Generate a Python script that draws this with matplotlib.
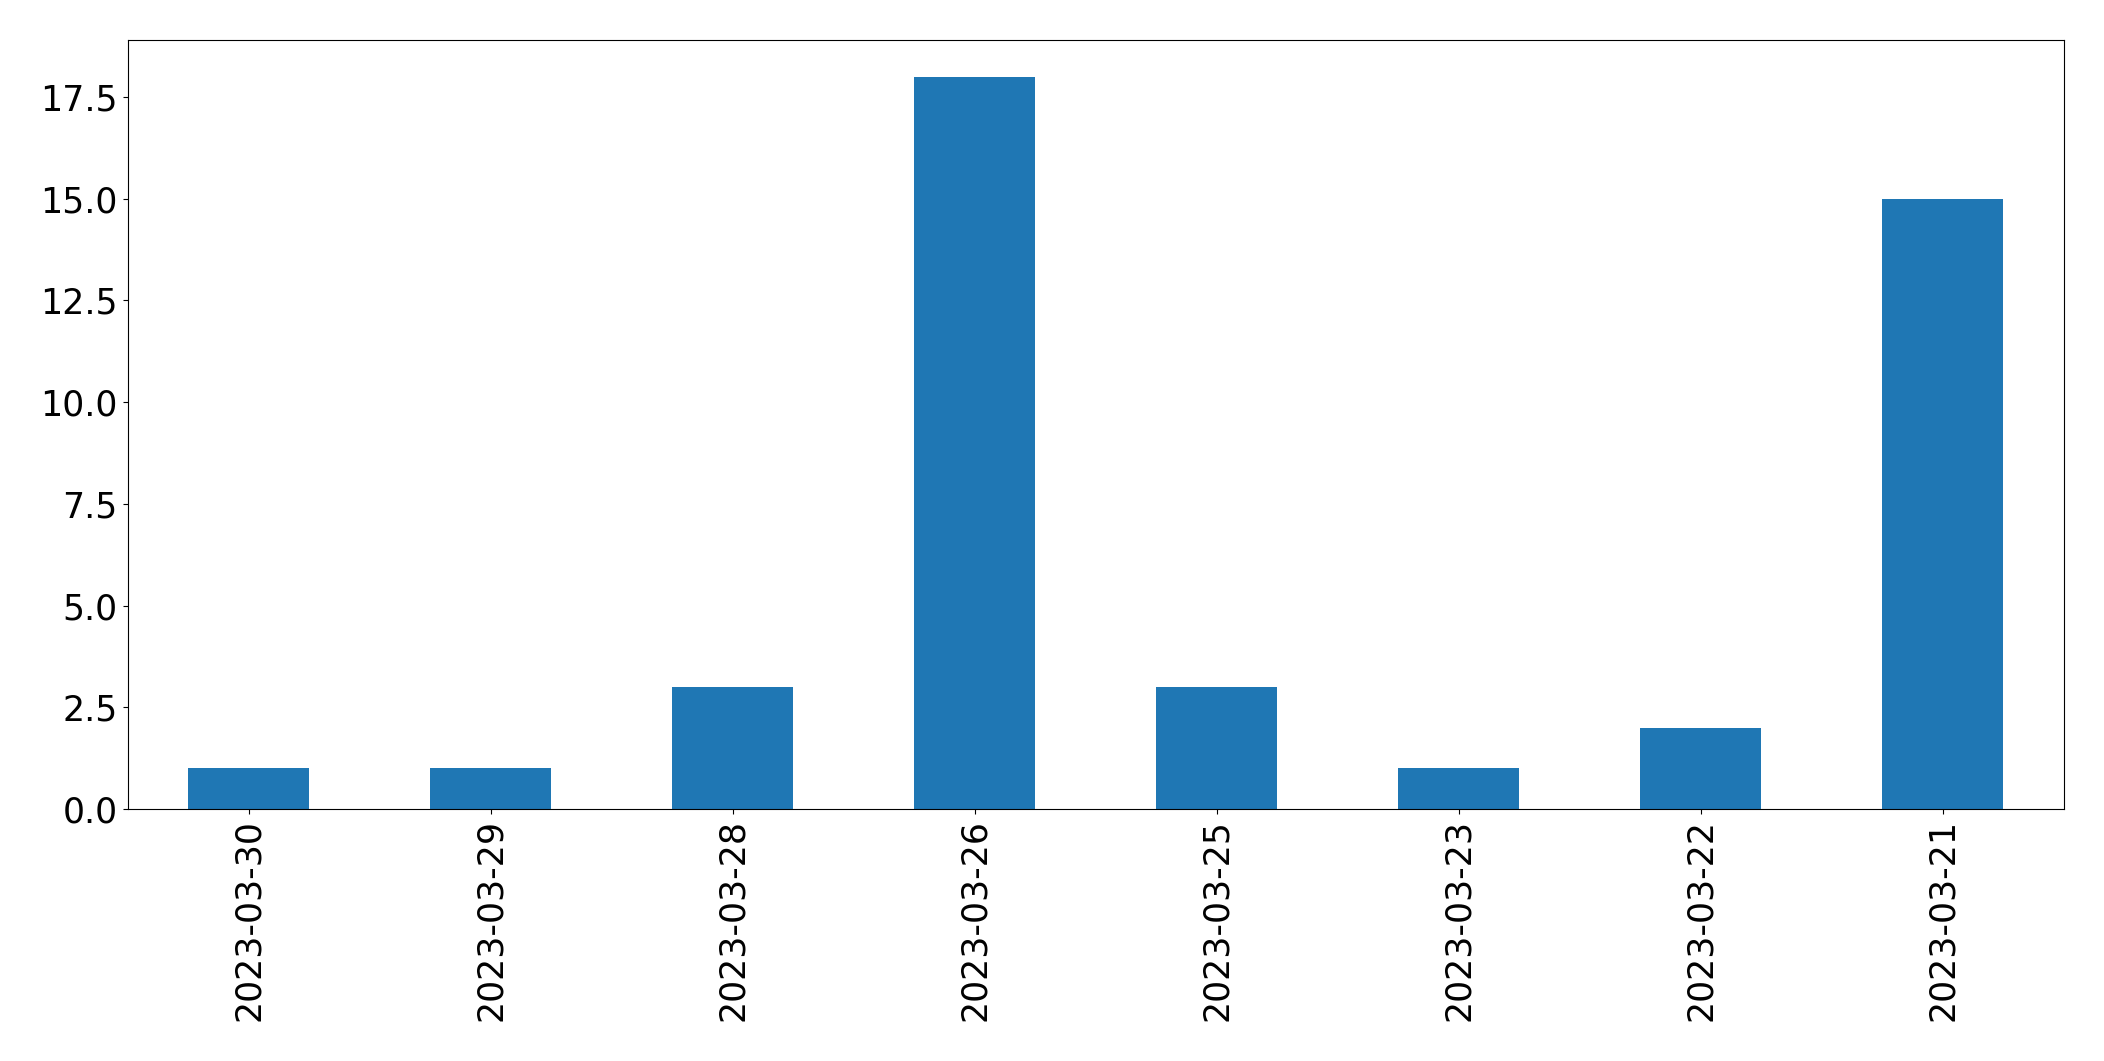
import matplotlib
matplotlib.use("Agg")
import matplotlib.pyplot as plt
import pandas as pd

dates = ["2023-03-30", "2023-03-29", "2023-03-28", "2023-03-26",
         "2023-03-25", "2023-03-23", "2023-03-22", "2023-03-21"]
counts = [1, 1, 3, 18, 3, 1, 2, 15]

fig = plt.figure(figsize=(21.04, 10.61), dpi=100)
ax = fig.add_axes([127.5/2104, 1 - 809/1061, (2064-127.5)/2104, (809-40)/1061])
s = pd.Series(counts, index=dates)
s.plot.bar(ax=ax, color="#1f77b4", width=0.5)
ax.tick_params(labelsize=25)
fig.savefig("out.png", dpi=100)
